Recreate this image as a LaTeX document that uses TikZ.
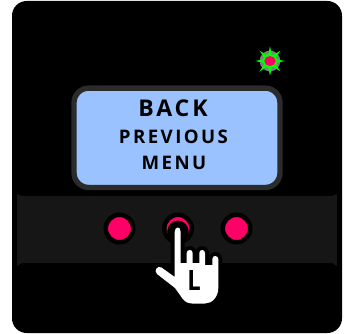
\documentclass[tikz,border=0pt]{standalone}
\usepackage{fontspec}
\setmainfont{Open Sans}
\newfontfamily\lcdfont[LetterSpace=13]{Open Sans}
\usetikzlibrary{shapes.geometric,positioning}
\definecolor{btnpink}{HTML}{FF0066}
\definecolor{lcdblue}{HTML}{99C2FF}
\definecolor{bandgrey}{HTML}{161616}
\definecolor{rimgrey}{HTML}{2B2B2B}
\newcommand{\handoutline}{(174.7,232) .. controls (174.7,226) and (180.7,226) .. (180.7,232)
  -- (180.7,263) -- (186.7,263) -- (186.7,253) .. controls (186.7,249) and (192.7,249) .. (192.7,253)
  -- (192.7,263) -- (199.3,263) -- (199.3,253) .. controls (199.3,249) and (205,249) .. (205,253)
  -- (205,265) -- (212.3,265) -- (212.3,259) .. controls (212.3,255) and (218.3,255) .. (218.3,259)
  -- (218.3,288) .. controls (218.3,297) and (212,303.5) .. (205,303.5)
  -- (192,303.5) .. controls (186,303.5) and (183,300) .. (180,295)
  -- (175,288) -- (157,274) .. controls (153.5,270.5) and (157.5,265) .. (161.5,267.5)
  -- (174.7,277) -- cycle}
\tikzset{
  btn/.style={circle, fill=btnpink, draw=black, line width=3.4pt, minimum size=20.6pt, inner sep=0pt},
  bigline/.style={font=\lcdfont\bfseries\fontsize{17.3}{19}\selectfont, inner sep=0pt},
  lcdline/.style={font=\lcdfont\bfseries\fontsize{14}{16}\selectfont, inner sep=0pt},
  ledstar/.style={star, star points=8, star point ratio=2.6, fill=green, minimum size=22pt, inner sep=0pt}
}
\begin{document}
\begin{tikzpicture}[x=.75pt,y=-.75pt]
\useasboundingbox (0,0) rectangle (345,334);
\fill[white] (0,0) rectangle (345,334);
\fill[black, rounded corners=11pt] (12,1) rectangle (342,333);
\fill[bandgrey] (17,194) -- (22,196) -- (332,196) -- (337,194) -- (337,266) -- (332,263) -- (22,263) -- (17,266) -- cycle;
% display
\node[draw=rimgrey, fill=lcdblue, line width=4pt, rounded corners=11pt, minimum width=154.5pt, minimum height=74.5pt, inner sep=0pt] (lcd) at (177,137.8) {};
\node[bigline] (back) at (173,108.5) {BACK};
\node[lcdline] (prev) at (173.5,137.3) {PREVIOUS};
\node[lcdline] (menu) at (174,163.3) {MENU};
% led
\node[circle, fill=gray, minimum size=15.5pt, inner sep=0pt] (ledgrey) at (270,61) {};
\node[ledstar] (ledring) at (ledgrey) {};
\node[circle, fill=green, minimum size=10.5pt, inner sep=0pt] (ledgreen) at (ledgrey) {};
\node[ellipse, fill=btnpink, minimum width=8.5pt, minimum height=7.5pt, inner sep=0pt] (ledcore) at (ledgrey) {};
% buttons
\node[btn] (left) at (119.5,228.5) {};
\node[btn] (mid) at (178,228.5) {};
\node[btn] (right) at (236.5,228.5) {};
\node[circle, fill=black, minimum size=16pt, inner sep=0pt] (midhole) at (178,231.3) {};
% hand
\draw[black, line width=6pt, line join=round] \handoutline;
\fill[white] \handoutline;
\node[inner sep=0pt, font=\bfseries\fontsize{21}{23}\selectfont] (hand) at (194,281) {\scalebox{.85}[1]{L}};
\end{tikzpicture}
\end{document}
